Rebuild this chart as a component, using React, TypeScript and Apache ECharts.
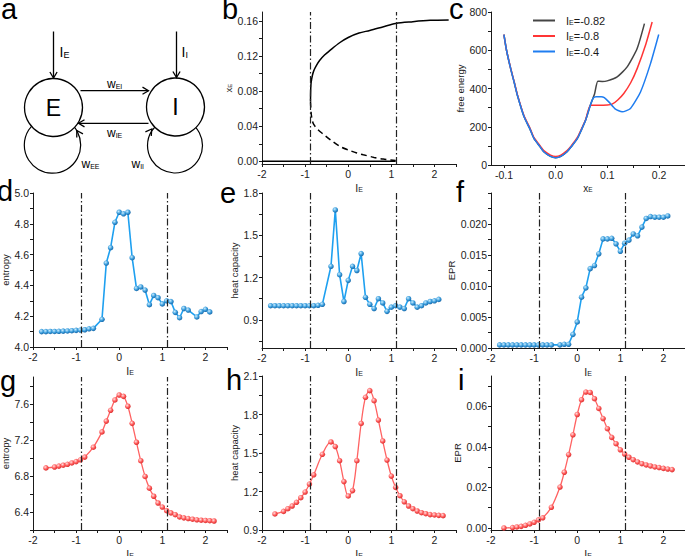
import React, { useEffect, useRef } from "react";
import * as echarts from "echarts";

// ---------------- data ----------------
const criticalIE = [-0.87, 1.11];

// panel b: bifurcation diagram
const bUpperIE = [-0.875, -0.87, -0.86, -0.83, -0.8, -0.74, -0.66, -0.55, -0.43, -0.2, 0, 0.25, 0.5, 0.8, 1.1, 1.5, 1.9, 2.33];
const bUpperXE = [0.068, 0.082, 0.09, 0.098, 0.103, 0.109, 0.115, 0.121, 0.126, 0.135, 0.141, 0.146, 0.149, 0.153, 0.157, 0.159, 0.1605, 0.161];
const bLowerIE = [-0.875, -0.86, -0.84, -0.8, -0.7, -0.58, -0.4, -0.19, 0, 0.2, 0.35, 0.6, 0.81, 1.1];
const bLowerXE = [0.068, 0.055, 0.048, 0.042, 0.036, 0.031, 0.024, 0.017, 0.013, 0.0095, 0.0075, 0.0045, 0.0026, 0.001];
const bZeroIE = [-2, 1.1];
const bZeroXE = [0, 0];

// panel c: free energy landscapes
const cNames = ["IE=-0.82", "IE=-0.8", "IE=-0.4"];
const cBlackXE = [-0.1, -0.095, -0.087, -0.08, -0.074, -0.061, -0.05, -0.042, -0.03, -0.023, -0.01, 0, 0.01, 0.022, 0.03, 0.042, 0.05, 0.058, 0.067, 0.075, 0.0815, 0.09, 0.0996, 0.1189, 0.1382, 0.1575, 0.1716];
const cBlackF = [682, 600, 504, 430, 365, 252, 190, 139, 95, 69, 45, 38, 45, 69, 95, 139, 185, 235, 313, 370, 438, 437, 440, 461, 513, 609, 739];
const cRedXE = [-0.1, -0.095, -0.087, -0.08, -0.074, -0.061, -0.05, -0.042, -0.03, -0.023, -0.01, 0, 0.01, 0.022, 0.03, 0.042, 0.05, 0.058, 0.0674, 0.08, 0.1, 0.109, 0.12, 0.1317, 0.145, 0.1575, 0.1736, 0.1865];
const cRedF = [682, 600, 506, 433, 368, 256, 195, 144, 100, 75, 52, 45, 52, 75, 100, 144, 189, 238, 313, 313, 314, 318, 340, 374, 430, 504, 626, 748];
const cBlueXE = [-0.1, -0.095, -0.087, -0.08, -0.074, -0.061, -0.05, -0.042, -0.03, -0.023, -0.01, 0, 0.01, 0.022, 0.03, 0.042, 0.05, 0.058, 0.067, 0.0726, 0.078, 0.088, 0.094, 0.1027, 0.1156, 0.1285, 0.1446, 0.164, 0.1833, 0.1992];
const cBlueF = [682, 600, 504, 430, 365, 252, 190, 139, 95, 69, 45, 38, 45, 69, 95, 139, 185, 235, 313, 350, 357, 357, 352, 330, 292, 278, 296, 382, 530, 682];

// panel d: entropy (blue)
const dIE = [-1.8, -1.7, -1.6, -1.5, -1.4, -1.3, -1.2, -1.1, -1.0, -0.9, -0.8, -0.7, -0.6, -0.4, -0.3, -0.2, -0.1, 0, 0.1, 0.2, 0.3, 0.4, 0.5, 0.6, 0.7, 0.8, 0.9, 1.0, 1.1, 1.2, 1.3, 1.4, 1.5, 1.6, 1.8, 1.9, 2.0, 2.1];
const dEntropy = [4.1, 4.1, 4.101, 4.101, 4.102, 4.103, 4.104, 4.106, 4.108, 4.11, 4.112, 4.118, 4.121, 4.18, 4.545, 4.645, 4.81, 4.875, 4.865, 4.875, 4.58, 4.38, 4.39, 4.37, 4.275, 4.335, 4.32, 4.28, 4.3, 4.295, 4.225, 4.19, 4.25, 4.24, 4.195, 4.23, 4.245, 4.228];

// panel e: heat capacity (blue)
const eIE = [-1.8, -1.7, -1.6, -1.5, -1.4, -1.3, -1.2, -1.1, -1.0, -0.9, -0.8, -0.7, -0.6, -0.4, -0.3, -0.2, -0.1, 0, 0.1, 0.2, 0.3, 0.4, 0.5, 0.6, 0.7, 0.8, 0.9, 1.0, 1.1, 1.2, 1.3, 1.4, 1.5, 1.6, 1.7, 1.8, 1.9, 2.0, 2.1];
const eHeat = [1.0, 1.0, 1.0, 1.0, 1.0, 1.0, 1.0, 1.0, 1.0, 1.0, 1.0, 1.003, 1.01, 1.28, 1.68, 1.22, 1.03, 1.18, 1.28, 1.25, 1.37, 1.06, 1.01, 0.98, 1.05, 1.02, 0.96, 0.99, 1.0, 0.99, 0.98, 1.05, 1.02, 0.99, 1.0, 1.02, 1.03, 1.035, 1.045];

// panel f: EPR (blue)
const fIE = [-1.8, -1.7, -1.6, -1.5, -1.4, -1.3, -1.2, -1.1, -1.0, -0.9, -0.8, -0.7, -0.6, -0.4, -0.3, -0.2, -0.1, 0, 0.1, 0.2, 0.3, 0.4, 0.5, 0.6, 0.7, 0.8, 0.9, 1.0, 1.1, 1.2, 1.3, 1.4, 1.5, 1.6, 1.7, 1.8, 1.9, 2.0, 2.1];
const fEPR = [0.0005, 0.0005, 0.0005, 0.0005, 0.0005, 0.0005, 0.0005, 0.0005, 0.0005, 0.0005, 0.0005, 0.0005, 0.0005, 0.0005, 0.0006, 0.0006, 0.0022, 0.0042, 0.0082, 0.0097, 0.0128, 0.0133, 0.0152, 0.0176, 0.0176, 0.0177, 0.0168, 0.0156, 0.0169, 0.0174, 0.0184, 0.0181, 0.0195, 0.0209, 0.0212, 0.0211, 0.0211, 0.0211, 0.0213];

// panels g, h, i (red)
const ghiIE = [-1.7, -1.5, -1.4, -1.3, -1.2, -1.1, -1.0, -0.9, -0.8, -0.6, -0.4, -0.3, -0.2, -0.1, 0, 0.1, 0.2, 0.3, 0.4, 0.5, 0.6, 0.7, 0.8, 0.9, 1.0, 1.1, 1.2, 1.3, 1.4, 1.5, 1.6, 1.7, 1.8, 1.9, 2.0, 2.1, 2.2];
const gEntropy = [6.89, 6.9, 6.91, 6.92, 6.93, 6.945, 6.96, 6.98, 7.01, 7.12, 7.29, 7.41, 7.53, 7.645, 7.7, 7.685, 7.575, 7.385, 7.175, 6.97, 6.795, 6.665, 6.575, 6.5, 6.455, 6.415, 6.39, 6.37, 6.345, 6.335, 6.327, 6.32, 6.313, 6.309, 6.306, 6.303, 6.3];
const hHeat = [1.025, 1.045, 1.066, 1.087, 1.116, 1.152, 1.196, 1.258, 1.33, 1.49, 1.586, 1.55, 1.44, 1.277, 1.165, 1.207, 1.44, 1.73, 1.934, 1.986, 1.908, 1.757, 1.594, 1.445, 1.32, 1.232, 1.167, 1.12, 1.087, 1.066, 1.048, 1.035, 1.027, 1.02, 1.017, 1.014, 1.012];
const iEPR = [0.0, 0.0002, 0.0005, 0.0008, 0.0013, 0.002, 0.0028, 0.004, 0.005, 0.0102, 0.0202, 0.0275, 0.0362, 0.046, 0.056, 0.0633, 0.0671, 0.0669, 0.0638, 0.059, 0.054, 0.049, 0.0447, 0.0416, 0.0386, 0.0365, 0.0349, 0.0337, 0.0326, 0.0317, 0.0311, 0.0306, 0.0301, 0.0298, 0.0294, 0.0291, 0.0288];

// tick labels
const ieLabels = [-2, -1, 0, 1, 2];
const ieTicks = [-2, -1.5, -1, -0.5, 0, 0.5, 1, 1.5, 2, 2.5];
const bYLabels = [0, 0.04, 0.08, 0.12, 0.16];
const bYTicks = [0, 0.02, 0.04, 0.06, 0.08, 0.1, 0.12, 0.14, 0.16];
const cXLabels = [-0.1, 0, 0.1, 0.2];
const cXTicks = [-0.1, -0.05, 0, 0.05, 0.1, 0.15, 0.2, 0.25];
const cYLabels = [0, 200, 400, 600, 800];
const cYTicks = [0, 100, 200, 300, 400, 500, 600, 700, 800];
const dYLabels = [4.0, 4.2, 4.4, 4.6, 4.8, 5.0];
const dYTicks = [4.0, 4.1, 4.2, 4.3, 4.4, 4.5, 4.6, 4.7, 4.8, 4.9, 5.0];
const eYLabels = [0.9, 1.2, 1.5, 1.8];
const eYTicks = [0.75, 0.9, 1.05, 1.2, 1.35, 1.5, 1.65, 1.8];
const fYLabels = [0, 0.005, 0.01, 0.015, 0.02];
const fYTicks = [0, 0.0025, 0.005, 0.0075, 0.01, 0.0125, 0.015, 0.0175, 0.02, 0.0225, 0.025];
const gYLabels = [6.4, 6.8, 7.2, 7.6];
const gYTicks = [6.2, 6.4, 6.6, 6.8, 7.0, 7.2, 7.4, 7.6, 7.8];
const hYLabels = [0.9, 1.2, 1.5, 1.8, 2.1];
const hYTicks = [0.9, 1.05, 1.2, 1.35, 1.5, 1.65, 1.8, 1.95, 2.1];
const iYLabels = [0, 0.02, 0.04, 0.06];
const iYTicks = [0, 0.01, 0.02, 0.03, 0.04, 0.05, 0.06, 0.07];

// ---------------- styling helpers ----------------
const FONT = '"Liberation Sans", Arial, Helvetica, sans-serif';
const INK = "#1a1a1a";
const BLUE_LINE = "#1ea0f0";
const RED_LINE = "#ff6262";

const zip = (xs: number[], ys: number[]) => xs.map((x, i) => [x, ys[i]]);

const subRich = (size: number, sub: number, drop: number) => ({
  m: { fontSize: size, fontFamily: FONT, color: INK, verticalAlign: "top", lineHeight: size },
  s: { fontSize: sub, fontFamily: FONT, color: INK, verticalAlign: "bottom", lineHeight: sub, padding: [drop, 0, 0, 0] },
});
const subRichG = (size: number, sub: number, drop: number) => ({
  m: { fontSize: size, fontFamily: FONT, fill: "#000", verticalAlign: "top", lineHeight: size },
  s: { fontSize: sub, fontFamily: FONT, fill: "#000", verticalAlign: "bottom", lineHeight: sub, padding: [drop, 0, 0, 0] },
});

const labelStyle = (fmt: (v: number) => string, labels: number[], margin = 4) => ({
  customValues: labels,
  formatter: (v: number) => fmt(Number(v)),
  fontSize: 10.5,
  fontFamily: FONT,
  color: "#222",
  margin,
});

const xAxisIE = (gi: number, gap: number) => ({
  type: "value",
  gridIndex: gi,
  min: -2,
  max: 2.5,
  axisLine: { show: true, onZero: false, lineStyle: { color: INK, width: 1 } },
  axisTick: { show: true, inside: false, length: 3, customValues: ieTicks, lineStyle: { color: INK } },
  axisLabel: labelStyle((v) => String(Math.round(v)), ieLabels),
  splitLine: { show: false },
  name: "{m|I}{s|E}",
  nameLocation: "middle",
  nameGap: gap,
  nameTextStyle: { rich: subRich(10.5, 7, 6) },
});

const yAxisV = (gi: number, min: number, max: number, labels: number[], ticks: number[], fmt: (v: number) => string, name: string, gap: number, rich?: any) => ({
  type: "value",
  gridIndex: gi,
  min,
  max,
  axisLine: { show: true, onZero: false, lineStyle: { color: INK, width: 1 } },
  axisTick: { show: true, inside: false, length: 3, customValues: ticks, lineStyle: { color: INK } },
  axisLabel: labelStyle(fmt, labels, 4),
  splitLine: { show: false },
  name,
  nameLocation: "middle",
  nameGap: gap,
  nameTextStyle: rich ? { rich } : { fontSize: 9.5, fontFamily: FONT, color: INK },
});

const vLines = {
  silent: true,
  symbol: ["none", "none"],
  label: { show: false },
  lineStyle: { type: [7, 2.5, 1.5, 2.5], color: "#222", width: 1.2 },
  data: criticalIE.map((v) => ({ xAxis: v })),
};

const blueSphere = {
  color: { type: "radial", x: 0.38, y: 0.35, r: 0.7, colorStops: [{ offset: 0, color: "#c9ecff" }, { offset: 0.55, color: "#3a9ddc" }, { offset: 1, color: "#1261a3" }] },
};
const redSphere = {
  color: { type: "radial", x: 0.38, y: 0.35, r: 0.7, colorStops: [{ offset: 0, color: "#ffe0e0" }, { offset: 0.55, color: "#ff5a5a" }, { offset: 1, color: "#d42a2a" }] },
};

const markerSeries = (gi: number, xs: number[], ys: number[], blue: boolean) => ({
  type: "line",
  xAxisIndex: gi,
  yAxisIndex: gi,
  data: zip(xs, ys),
  symbol: "circle",
  symbolSize: 5.5,
  smooth: blue ? false : 0.35,
  lineStyle: { color: blue ? BLUE_LINE : RED_LINE, width: blue ? 1.6 : 1.3 },
  itemStyle: blue ? blueSphere : redSphere,
  markLine: vLines,
  z: 3,
});

// ---------------- panel a drawing ----------------
const chevron = (tx: number, ty: number, dx: number, dy: number, len = 6, half = 3.6) => {
  const n = Math.hypot(dx, dy);
  const ux = dx / n, uy = dy / n;
  const px = -uy, py = ux;
  return {
    type: "polyline",
    shape: { points: [[tx - ux * len + px * half, ty - uy * len + py * half], [tx, ty], [tx - ux * len - px * half, ty - uy * len - py * half]] },
    style: { stroke: "#000", lineWidth: 1.3, fill: "none" },
  };
};

const seg = (x1: number, y1: number, x2: number, y2: number) => ({
  type: "line",
  shape: { x1, y1, x2, y2 },
  style: { stroke: "#000", lineWidth: 1.3 },
});

const subText = (x: number, y: number, main: string, sub: string, size: number, subSize: number, drop: number) => ({
  type: "text",
  x,
  y,
  style: {
    text: `{m|${main}}{s|${sub}}`,
    rich: subRichG(size, subSize, drop),
    fill: "#000",
    verticalAlign: "middle",
  },
});

const panelLetter = (ch: string, x: number, y: number) => ({
  type: "text",
  x,
  y,
  style: { text: ch, fontSize: 29, lineHeight: 18, fontFamily: FONT, fill: "#000", verticalAlign: "middle" },
});

const loopArrow = (cx: number, cy: number, px: number, py: number, up: number) => {
  const rx = px - cx, ry = py - cy;
  let tx = -ry, ty = rx;
  if (ty * up < 0) { tx = -tx; ty = -ty; }
  return chevron(px, py, tx, ty, 6, 3.6);
};

export default function App() {
  const ref = useRef<HTMLDivElement>(null);
  useEffect(() => {
    if (!ref.current) return;
    const chart = echarts.init(ref.current, undefined, { renderer: "svg" });

    const grids = [
      { left: 262, top: 12, width: 194, height: 152 }, // b
      { left: 491, top: 12, width: 194, height: 153 }, // c
      { left: 33, top: 193, width: 194, height: 154 }, // d
      { left: 262, top: 193, width: 194, height: 155 }, // e
      { left: 491, top: 193, width: 194, height: 155 }, // f
      { left: 33, top: 377, width: 194, height: 153 }, // g
      { left: 262, top: 376, width: 194, height: 154 }, // h
      { left: 491, top: 376, width: 194, height: 154 }, // i
    ].map((g) => ({ ...g, containLabel: false, outerBoundsMode: "none" }));

    const cX = {
      type: "value",
      gridIndex: 1,
      min: -0.125,
      max: 0.25,
      axisLine: { show: true, onZero: false, lineStyle: { color: INK, width: 1 } },
      axisTick: { show: true, length: 3, customValues: cXTicks, lineStyle: { color: INK } },
      axisLabel: labelStyle((v) => v.toFixed(1), cXLabels),
      splitLine: { show: false },
      name: "{m|x}{s|E}",
      nameLocation: "middle",
      nameGap: 18,
      nameTextStyle: { rich: subRich(10, 6.5, 5) },
    };

    const xAxes = [
      xAxisIE(0, 18),
      cX,
      xAxisIE(2, 16),
      xAxisIE(3, 16),
      xAxisIE(4, 16),
      xAxisIE(5, 16),
      xAxisIE(6, 16),
      xAxisIE(7, 16),
    ];

    const yAxes = [
      yAxisV(0, -0.003, 0.17, bYLabels, bYTicks, (v) => v.toFixed(2), "{m|x}{s|E}", 24, subRich(9.5, 6, 5)),
      yAxisV(1, 0, 800, cYLabels, cYTicks, (v) => String(Math.round(v)), "free energy", 21),
      yAxisV(2, 4.0, 5.0, dYLabels, dYTicks, (v) => v.toFixed(1), "entropy", 18),
      yAxisV(3, 0.7, 1.8, eYLabels, eYTicks, (v) => v.toFixed(1), "heat capacity", 19),
      yAxisV(4, 0, 0.025, fYLabels, fYTicks, (v) => v.toFixed(3), "EPR", 28),
      yAxisV(5, 6.2, 7.9, gYLabels, gYTicks, (v) => v.toFixed(1), "entropy", 18),
      yAxisV(6, 0.9, 2.1, hYLabels, hYTicks, (v) => v.toFixed(1), "heat capacity", 19),
      yAxisV(7, -0.001, 0.075, iYLabels, iYTicks, (v) => v.toFixed(2), "EPR", 28),
    ];

    const series: any[] = [
      { type: "line", xAxisIndex: 0, yAxisIndex: 0, data: zip(bZeroIE, bZeroXE), showSymbol: false, symbol: "none", lineStyle: { color: "#000", width: 1.5 }, markLine: vLines },
      { type: "line", xAxisIndex: 0, yAxisIndex: 0, data: zip(bUpperIE, bUpperXE), symbol: "none", smooth: 0.3, lineStyle: { color: "#000", width: 1.5 } },
      { type: "line", xAxisIndex: 0, yAxisIndex: 0, data: zip(bLowerIE, bLowerXE), symbol: "none", smooth: 0.3, lineStyle: { color: "#000", width: 1.5, type: [6, 4] } },
      { name: cNames[0], type: "line", xAxisIndex: 1, yAxisIndex: 1, data: zip(cBlackXE, cBlackF), symbol: "none", smooth: 0.2, lineStyle: { color: "#454545", width: 1.5 }, itemStyle: { color: "#454545" } },
      { name: cNames[1], type: "line", xAxisIndex: 1, yAxisIndex: 1, data: zip(cRedXE, cRedF), symbol: "none", smooth: 0.2, lineStyle: { color: "#ff3535", width: 1.5 }, itemStyle: { color: "#ff3535" } },
      { name: cNames[2], type: "line", xAxisIndex: 1, yAxisIndex: 1, data: zip(cBlueXE, cBlueF), symbol: "none", smooth: 0.2, lineStyle: { color: "#1f7df0", width: 1.5 }, itemStyle: { color: "#1f7df0" } },
      markerSeries(2, dIE, dEntropy, true),
      markerSeries(3, eIE, eHeat, true),
      markerSeries(4, fIE, fEPR, true),
      markerSeries(5, ghiIE, gEntropy, false),
      markerSeries(6, ghiIE, hHeat, false),
      markerSeries(7, ghiIE, iEPR, false),
    ];

    const legendRich = {
      p: { fontSize: 11, fontFamily: FONT, color: INK, verticalAlign: "top", lineHeight: 11, padding: [0, 0, 0, 6] },
      m: { fontSize: 11, fontFamily: FONT, color: INK, verticalAlign: "top", lineHeight: 11 },
      s: { fontSize: 7, fontFamily: FONT, color: INK, verticalAlign: "bottom", lineHeight: 7, padding: [6, 0, 0, 0] },
    };

    const Ec = { cx: 53.5, cy: 107.5, r: 29 };
    const Ic = { cx: 175.5, cy: 107, r: 29 };
    const El = { cx: 52.5, cy: 145, r: 28.2 };
    const Il = { cx: 175, cy: 145.5, r: 27.5 };

    const graphic: any[] = [
      { type: "circle", shape: El, style: { fill: "none", stroke: "#000", lineWidth: 1.2 } },
      { type: "circle", shape: Il, style: { fill: "none", stroke: "#000", lineWidth: 1.2 } },
      { type: "circle", shape: Ec, style: { fill: "#fff", stroke: "#000", lineWidth: 1.3 } },
      { type: "circle", shape: Ic, style: { fill: "#fff", stroke: "#000", lineWidth: 1.3 } },
      { type: "text", x: Ec.cx, y: Ec.cy, style: { text: "E", fontSize: 23, fontFamily: FONT, fill: "#000", align: "center", verticalAlign: "middle" } },
      { type: "text", x: Ic.cx, y: Ic.cy, style: { text: "I", fontSize: 23, fontFamily: FONT, fill: "#000", align: "center", verticalAlign: "middle" } },
      seg(53.5, 31.5, 53.5, 78), chevron(53.5, 78, 0, 1),
      seg(176.5, 31.5, 176.5, 77.5), chevron(176.5, 77.5, 0, 1),
      seg(80.5, 90.7, 148.5, 90.7), chevron(148.5, 90.7, 1, 0),
      seg(148.5, 123.3, 78.5, 123.3), chevron(78.5, 123.3, -1, 0),
      loopArrow(El.cx, El.cy, 76.8, 130.5, -1),
      loopArrow(Il.cx, Il.cy, 151.8, 129, -1),
      subText(59.5, 52, "I", "E", 14, 9, 7),
      subText(181.5, 52, "I", "I", 14, 9, 7),
      subText(107, 83.5, "w", "EI", 12, 7, 5),
      subText(107, 132.5, "w", "IE", 12, 7, 5),
      subText(81.5, 163.5, "w", "EE", 12, 7, 5),
      subText(131.5, 163.5, "w", "II", 12, 7, 5),
      panelLetter("a", 1, 9),
      panelLetter("b", 222, 9),
      panelLetter("c", 449, 9),
      panelLetter("d", -3, 191),
      panelLetter("e", 220, 192.5),
      panelLetter("f", 456, 191.5),
      panelLetter("g", 0, 380.5),
      panelLetter("h", 226, 379.5),
      panelLetter("i", 458, 379.5),
    ];

    chart.setOption({
      animation: false,
      backgroundColor: "#fff",
      textStyle: { fontFamily: FONT },
      grid: grids,
      xAxis: xAxes,
      yAxis: yAxes,
      legend: {
        data: cNames,
        left: 533,
        top: 13,
        padding: 0,
        orient: "vertical",
        icon: "rect",
        itemWidth: 22,
        itemHeight: 2,
        itemGap: 2.5,
        formatter: (n: string) => `{p|I}{s|E}{m|${n.slice(2)}}`,
        textStyle: { rich: legendRich },
      },
      graphic,
      series,
    } as any);

    return () => chart.dispose();
  }, []);

  return <div ref={ref} style={{ position: "absolute", left: 0, top: 0, width: 685, height: 556 }} />;
}
